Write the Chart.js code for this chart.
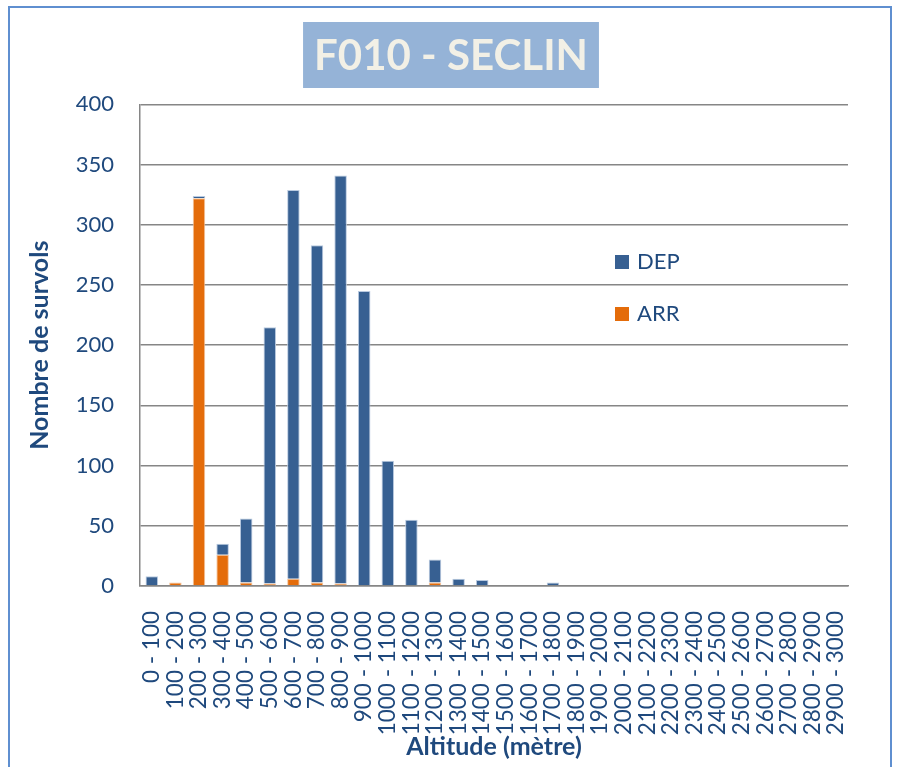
<!DOCTYPE html>
<html>
<head>
<meta charset="utf-8">
<script src="https://cdn.jsdelivr.net/npm/chart.js@4/dist/chart.umd.min.js"></script>
<style>
  html, body { margin: 0; padding: 0; background: #fff; }
  #wrap { width: 898px; height: 767px; position: relative; }
</style>
</head>
<body>
<div id="wrap"><canvas id="graphe"></canvas></div>
<script>
// Tranches d'altitude et nombre de survols
const tranches = [
  "0 - 100", "100 - 200", "200 - 300", "300 - 400", "400 - 500", "500 - 600",
  "600 - 700", "700 - 800", "800 - 900", "900 - 1000", "1000 - 1100", "1100 - 1200",
  "1200 - 1300", "1300 - 1400", "1400 - 1500", "1500 - 1600", "1600 - 1700", "1700 - 1800",
  "1800 - 1900", "1900 - 2000", "2000 - 2100", "2100 - 2200", "2200 - 2300", "2300 - 2400",
  "2400 - 2500", "2500 - 2600", "2600 - 2700", "2700 - 2800", "2800 - 2900", "2900 - 3000"
];
const arr = [0, 3, 322, 26, 3, 2, 6, 3, 2, 0, 0, 0, 3, 0, 0, 0, 0, 0, 0, 0, 0, 0, 0, 0, 0, 0, 0, 0, 0, 0];
const dep = [8, 0, 2, 9, 53, 213, 323, 280, 339, 245, 104, 55, 19, 6, 5, 0, 0, 3, 0, 0, 0, 0, 0, 0, 0, 0, 0, 0, 0, 0];
const yTicks = [0, 50, 100, 150, 200, 250, 300, 350, 400];

const titre = 'F010 - SECLIN';
const bleu = '#376092';
const orange = '#E46C0A';
const texte = '#1F497D';
const police = 'Lato';

// cadre bleu + titre sur fond bleu clair (centré sur la page)
const decor = {
  id: 'decor',
  beforeDraw(chart) {
    const c = chart.ctx;
    c.save();
    c.fillStyle = '#fff';
    c.fillRect(0, 0, chart.width, chart.height);
    c.strokeStyle = '#5F8FD0';
    c.lineWidth = 2;
    c.strokeRect(9, 7, chart.width - 16, chart.height + 20);
    c.font = `bold 42px ${police}`;
    const w = c.measureText(titre).width;
    const cx = chart.width / 2 + 2;
    const cy = 55;
    c.fillStyle = '#95B3D7';
    c.fillRect(cx - w / 2 - 11, cy - 33, w + 22, 66);
    c.fillStyle = '#F2F0E6';
    c.textAlign = 'center';
    c.textBaseline = 'middle';
    c.fillText(titre, cx, cy + 1);
    c.restore();
  }
};

// légende placée dans la zone du graphique
const legende = {
  id: 'legende',
  afterDraw(chart) {
    const c = chart.ctx;
    const x = chart.chartArea.left + 475;
    const items = [['DEP', bleu, 262], ['ARR', orange, 314]];
    c.save();
    c.font = `22px ${police}`;
    c.textBaseline = 'middle';
    items.forEach(([nom, coul, y]) => {
      c.fillStyle = coul;
      c.fillRect(x, y - 7, 14, 14);
      c.fillStyle = texte;
      c.fillText(nom, x + 22, y);
    });
    c.restore();
  }
};

const ctx = document.getElementById('graphe').getContext('2d');
new Chart(ctx, {
  type: 'bar',
  data: {
    labels: tranches,
    datasets: [
      { label: 'ARR', data: arr, backgroundColor: orange, borderColor: '#F3C49C', borderWidth: 1,
        barPercentage: 0.53, categoryPercentage: 1 },
      { label: 'DEP', data: dep, backgroundColor: bleu, borderColor: '#B9CAE0', borderWidth: 1,
        barPercentage: 0.53, categoryPercentage: 1 }
    ]
  },
  options: {
    responsive: true,
    maintainAspectRatio: false,
    animation: false,
    layout: { padding: { left: 9, right: 50, top: 0, bottom: 0 } },
    plugins: {
      legend: { display: false },
      tooltip: { enabled: false },
      // espace réservé pour le titre, dessiné par le plugin decor
      title: {
        display: true,
        text: titre,
        color: 'rgba(0,0,0,0)',
        font: { family: police, size: 42, weight: 'bold', lineHeight: 1.2 },
        padding: { top: 30, bottom: 24 }
      }
    },
    scales: {
      x: {
        stacked: true,
        grid: { display: false, drawTicks: false },
        border: { display: true, color: '#868686', width: 1.5 },
        ticks: {
          color: texte, font: { family: police, size: 22.5 },
          minRotation: 90, maxRotation: 90, autoSkip: false, padding: 25
        },
        title: {
          display: true, text: 'Altitude (mètre)', color: texte,
          font: { family: police, size: 25, weight: 'bold', lineHeight: 1.2 },
          padding: { top: 0, bottom: 5 }
        },
        afterFit(scale) { scale.height = 767 - 586; }
      },
      y: {
        stacked: true,
        min: 0, max: 400,
        afterBuildTicks(scale) { scale.ticks = yTicks.map(v => ({ value: v })); },
        grid: { color: '#868686', lineWidth: 1.5, drawTicks: false },
        border: { display: true, color: '#868686', width: 1.5 },
        ticks: { color: texte, font: { family: police, size: 22 }, padding: 26 },
        title: {
          display: true, text: 'Nombre de survols', color: texte,
          font: { family: police, size: 25, weight: 'bold', lineHeight: 1.2 },
          padding: { top: 16, bottom: 0 }
        },
        afterFit(scale) { scale.width = 131; }
      }
    }
  },
  plugins: [decor, legende]
});
</script>
</body>
</html>
